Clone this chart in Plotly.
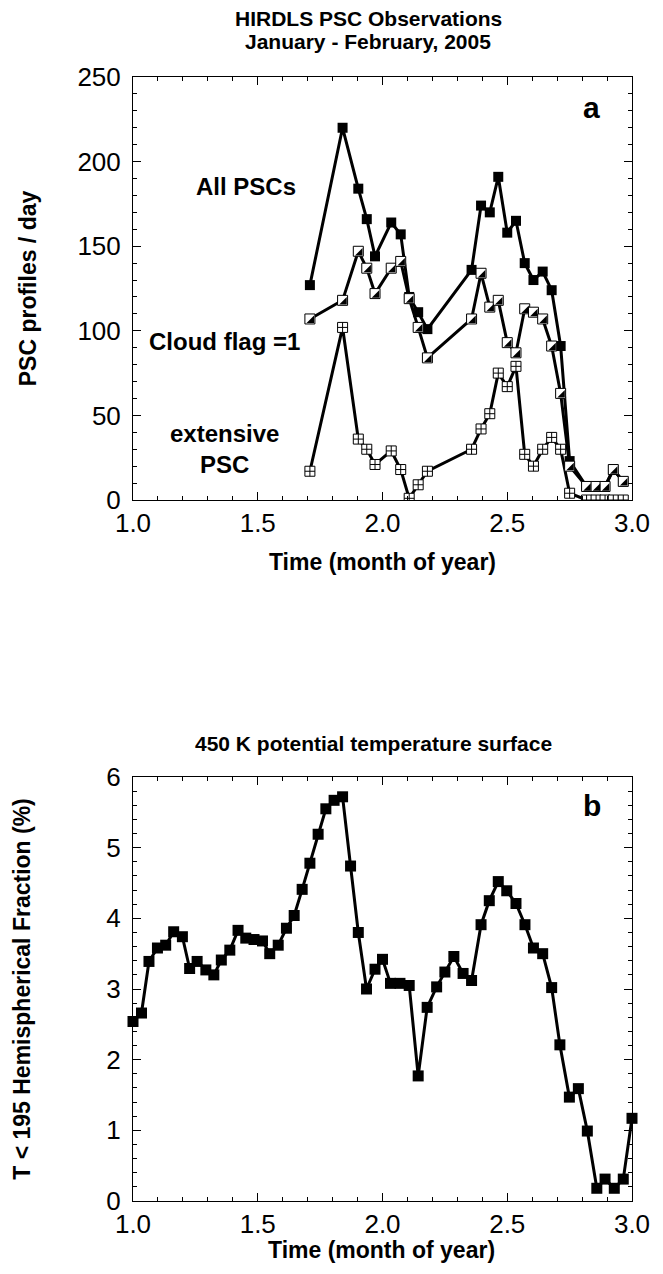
import plotly.graph_objects as go

# ---- panel a: HIRDLS PSC observations ----
days_a = [1.709, 1.840, 1.903, 1.937, 1.970, 2.035, 2.073, 2.107, 2.143, 2.180,
          2.357, 2.395, 2.430, 2.464, 2.500, 2.535, 2.570, 2.605, 2.642, 2.678,
          2.714, 2.750, 2.818, 2.856, 2.892, 2.925, 2.965]
all_pscs = [127, 220, 184, 166, 144, 164, 157, 120, 111, 101,
            136, 174, 170, 191, 158, 165, 140, 130, 135, 124,
            91, 23, 8, 8, 8, 18, 11]
cloud_flag = [107, 118, 147, 137, 122, 137, 141, 119, 102, 84,
              107, 134, 114, 118, 93, 87, 113, 111, 107, 91,
              63, 20, 8, 8, 8, 18, 11]
extensive = [17, 102, 36, 30, 21, 29, 18, 1, 9, 17,
             30, 42, 51, 75, 67, 79, 27, 20, 30, 37,
             30, 4, 0, 0, 0, 0, 0]

# ---- panel b: 450 K hemispherical fraction ----
days_b = [1.000, 1.034, 1.064, 1.098, 1.131, 1.163, 1.198, 1.227, 1.257, 1.292,
          1.324, 1.354, 1.388, 1.421, 1.452, 1.485, 1.519, 1.548, 1.582, 1.615,
          1.646, 1.678, 1.709, 1.742, 1.773, 1.806, 1.840, 1.872, 1.903, 1.936,
          1.970, 2.000, 2.032, 2.070, 2.107, 2.143, 2.179, 2.217, 2.250, 2.286,
          2.323, 2.357, 2.395, 2.428, 2.464, 2.498, 2.535, 2.571, 2.605, 2.642,
          2.678, 2.711, 2.749, 2.785, 2.821, 2.859, 2.892, 2.929, 2.965, 3.000]
frac_b = [2.54, 2.66, 3.39, 3.58, 3.62, 3.81, 3.74, 3.29, 3.39, 3.27,
          3.20, 3.41, 3.55, 3.83, 3.72, 3.70, 3.68, 3.50, 3.62, 3.86,
          4.04, 4.41, 4.78, 5.19, 5.55, 5.67, 5.72, 4.74, 3.80, 3.00,
          3.28, 3.42, 3.08, 3.08, 3.05, 1.77, 2.74, 3.03, 3.24, 3.46,
          3.22, 3.12, 3.91, 4.25, 4.52, 4.39, 4.21, 3.91, 3.58, 3.50,
          3.02, 2.21, 1.47, 1.59, 0.99, 0.18, 0.31, 0.18, 0.31, 1.17]

# page body has an 8px margin, so the figure sits at (8, 8)
OFF = 8
W, H = 663 - 2 * OFF, 1274 - 2 * OFF
px = lambda v: (v - OFF) / W
py = lambda v: 1 - (v - OFF) / H

FONT = "Liberation Sans, Arial, Helvetica, sans-serif"
xdom = [px(133), px(632)]
ydom_a = [py(500), py(77)]
ydom_b = [py(1201), py(777)]
MS = 10
LW = 3

# shift of the black half of the half-filled marker (px -> data units)
px_x = (xdom[1] - xdom[0]) * W / 2.0
px_y = (ydom_a[1] - ydom_a[0]) * H / 250.0
sh = MS / 6.0

fig = go.Figure()

fig.add_trace(go.Scatter(x=days_a, y=extensive, mode="lines+markers",
                         line=dict(color="black", width=LW),
                         marker=dict(symbol="square-cross", size=MS, color="white",
                                     line=dict(color="black", width=1)),
                         xaxis="x", yaxis="y"))
fig.add_trace(go.Scatter(x=days_a, y=all_pscs, mode="lines+markers",
                         line=dict(color="black", width=LW),
                         marker=dict(symbol="square", size=MS, color="black"),
                         xaxis="x", yaxis="y"))
fig.add_trace(go.Scatter(x=days_a, y=cloud_flag, mode="lines+markers",
                         line=dict(color="black", width=LW),
                         marker=dict(symbol="square", size=MS, color="white",
                                     line=dict(color="black", width=1)),
                         xaxis="x", yaxis="y"))
fig.add_trace(go.Scatter(x=[d + sh / px_x for d in days_a],
                         y=[v - sh / px_y for v in cloud_flag], mode="markers",
                         marker=dict(symbol="triangle-se", size=MS / 1.2, color="black",
                                     line=dict(width=0)),
                         xaxis="x", yaxis="y"))

fig.add_trace(go.Scatter(x=days_b, y=frac_b, mode="lines+markers",
                         line=dict(color="black", width=LW),
                         marker=dict(symbol="square", size=MS + 1, color="black"),
                         cliponaxis=False, xaxis="x2", yaxis="y2"))

axis_common = dict(showline=True, linecolor="black", linewidth=1, mirror="ticks",
                   ticks="inside", ticklen=8, tickcolor="black", showgrid=False,
                   zeroline=False, automargin=False,
                   tickfont=dict(family=FONT, size=26, color="black"))
xcommon = dict(axis_common, range=[1, 3], tick0=1, dtick=0.5, tickformat=".1f",
               minor=dict(ticks="inside", ticklen=4, dtick=0.1, tickcolor="black"))
title_font = dict(family=FONT, size=23, color="black", weight="bold")

fig.update_layout(
    width=W, height=H, showlegend=False,
    paper_bgcolor="white", plot_bgcolor="white",
    margin=dict(l=0, r=0, t=0, b=0),
    xaxis=dict(xcommon, domain=xdom, anchor="y",
               title=dict(text="Time (month of year)", standoff=16, font=title_font)),
    yaxis=dict(axis_common, domain=ydom_a, anchor="x", range=[0, 250], dtick=50,
               ticklabelstandoff=6,
               minor=dict(ticks="inside", ticklen=4, dtick=10, tickcolor="black"),
               title=dict(text="PSC profiles / day", standoff=34, font=title_font)),
    xaxis2=dict(xcommon, domain=xdom, anchor="y2"),
    yaxis2=dict(axis_common, domain=ydom_b, anchor="x2", range=[0, 6], dtick=1,
                ticklabelstandoff=6,
                minor=dict(ticks="inside", ticklen=4, dtick=0.2, tickcolor="black"),
                title=dict(text="T < 195 Hemispherical Fraction (%)", standoff=69,
                           font=title_font)),
)

bold = lambda s: dict(family=FONT, size=s, color="black", weight="bold")
notes = [
    dict(text="HIRDLS PSC Observations", x=px(368), y=py(18), xref="paper", yref="paper", font=bold(21)),
    dict(text="January - February, 2005", x=px(368), y=py(42), xref="paper", yref="paper", font=bold(21)),
    dict(text="450 K potential temperature surface", x=px(373), y=py(743), xref="paper", yref="paper", font=bold(21)),
    dict(text="Time (month of year)", x=px(382), y=py(1250), xref="paper", yref="paper", font=bold(23)),
    dict(text="All PSCs", x=1.453, y=185, xref="x", yref="y", font=bold(24)),
    dict(text="Cloud flag =1", x=1.365, y=93.6, xref="x", yref="y", font=bold(24)),
    dict(text="extensive<br>PSC", x=1.365, y=30, xref="x", yref="y", font=bold(24)),
    dict(text="a", x=2.838, y=232, xref="x", yref="y", font=bold(30)),
    dict(text="b", x=2.838, y=5.6, xref="x2", yref="y2", font=bold(30)),
]
for n in notes:
    fig.add_annotation(showarrow=False, xanchor="center", yanchor="middle", **n)

fig.write_html("out.html")
